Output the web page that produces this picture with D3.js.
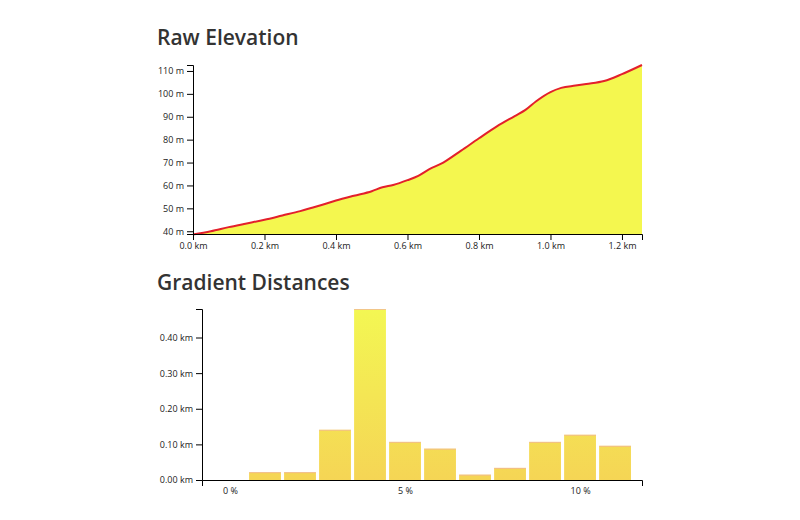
<!DOCTYPE html><html><head><meta charset="utf-8">
<script src="https://cdn.jsdelivr.net/npm/d3@7"></script>
<style>body{margin:0;background:#fff;font-family:"Open Sans",sans-serif}
.tick text{font-size:9px;fill:#222;font-family:"Open Sans",sans-serif}
.title{font-size:21px;font-weight:600;fill:#333}</style></head><body>
<svg id="c" width="800" height="520"></svg>
<script>
const distKm=[0,0.05,0.1,0.15,0.2,0.25,0.3,0.35,0.4,0.45,0.5,0.53,0.56,0.6,0.63,0.66,0.7,0.75,0.8,0.85,0.9,0.93,0.96,1.0,1.03,1.07,1.1,1.15,1.2,1.256];
const elevM=[38.6,40,41.8,43.4,45,46.9,48.8,51,53.4,55.5,57.5,59.2,60.2,62.3,64.2,67,70,75.2,80.6,85.8,90.3,93,96.8,100.8,102.6,103.6,104.3,105.6,108.6,112.6];
const gradPct=[0,1,2,3,4,5,6,7,8,9,10,11];
const gradKm=[0,0.022,0.022,0.141,0.48,0.107,0.088,0.015,0.034,0.107,0.127,0.096];
const xTicksPct=[0,5,10];
const svg=d3.select("#c");
svg.append("text").attr("class","title").attr("x",157).attr("y",45).text("Raw Elevation");
svg.append("text").attr("class","title").attr("x",157).attr("y",290).text("Gradient Distances");
const x1=d3.scaleLinear().domain([0,1.256]).range([193,642]);
const y1=d3.scaleLinear().domain([38.8,112.6]).range([234,65]);
const g1=svg.append("g");
const pts=distKm.map((d,i)=>[d,elevM[i]]);
g1.append("path").datum(pts).attr("fill","#f4f74f")
 .attr("d",d3.area().x(d=>x1(d[0])).y0(y1(38.8)).y1(d=>y1(d[1])).curve(d3.curveMonotoneX));
g1.append("path").datum(pts).attr("fill","none").attr("stroke","#e3202b").attr("stroke-width",2)
 .attr("d",d3.line().x(d=>x1(d[0])).y(d=>y1(d[1])).curve(d3.curveMonotoneX));
g1.append("g").attr("transform","translate(0,234)").call(d3.axisBottom(x1).tickValues([0,0.2,0.4,0.6,0.8,1.0,1.2]).tickFormat(d=>d3.format(".1f")(d)+" km").tickSizeOuter(6));
g1.append("g").attr("transform","translate(193,0)").call(d3.axisLeft(y1).tickValues([40,50,60,70,80,90,100,110]).tickFormat(d=>d+" m").tickSizeOuter(6));
const x2=d3.scaleLinear().domain([-0.8,11.77]).range([202,642]);
const y2=d3.scaleLinear().domain([0,0.48]).range([480,309]);
const defs=svg.append("defs");
const lg=defs.append("linearGradient").attr("id","bg").attr("gradientUnits","userSpaceOnUse").attr("x1",0).attr("x2",0).attr("y1",309).attr("y2",480);
lg.append("stop").attr("offset","0%").attr("stop-color","#f3f753");
lg.append("stop").attr("offset","100%").attr("stop-color","#f5d555");
const g2=svg.append("g");
const bw=x2(0.91)-x2(0);
g2.selectAll("rect").data(gradPct).join("rect")
 .attr("x",(d)=>x2(d)-bw/2).attr("width",bw)
 .attr("y",(d,i)=>y2(gradKm[i])).attr("height",(d,i)=>y2(0)-y2(gradKm[i]))
 .attr("fill","url(#bg)");
g2.selectAll("line.top").data(gradPct.filter((d,i)=>gradKm[i]>0)).join("line").attr("class","top")
 .attr("x1",d=>x2(d)-bw/2).attr("x2",d=>x2(d)+bw/2)
 .attr("y1",d=>y2(gradKm[d])+0.5).attr("y2",d=>y2(gradKm[d])+0.5).attr("stroke","#f0b0a0").attr("stroke-width",0.7);
g2.append("g").attr("transform","translate(0,480)").call(d3.axisBottom(x2).tickValues(xTicksPct).tickFormat(d=>d+" %").tickSize(0).tickSizeOuter(6).tickPadding(8));
g2.append("g").attr("transform","translate(202,0)").call(d3.axisLeft(y2).tickValues([0,0.1,0.2,0.3,0.4]).tickFormat(d=>d3.format(".2f")(d)+" km").tickSizeOuter(6));
</script></body></html>
